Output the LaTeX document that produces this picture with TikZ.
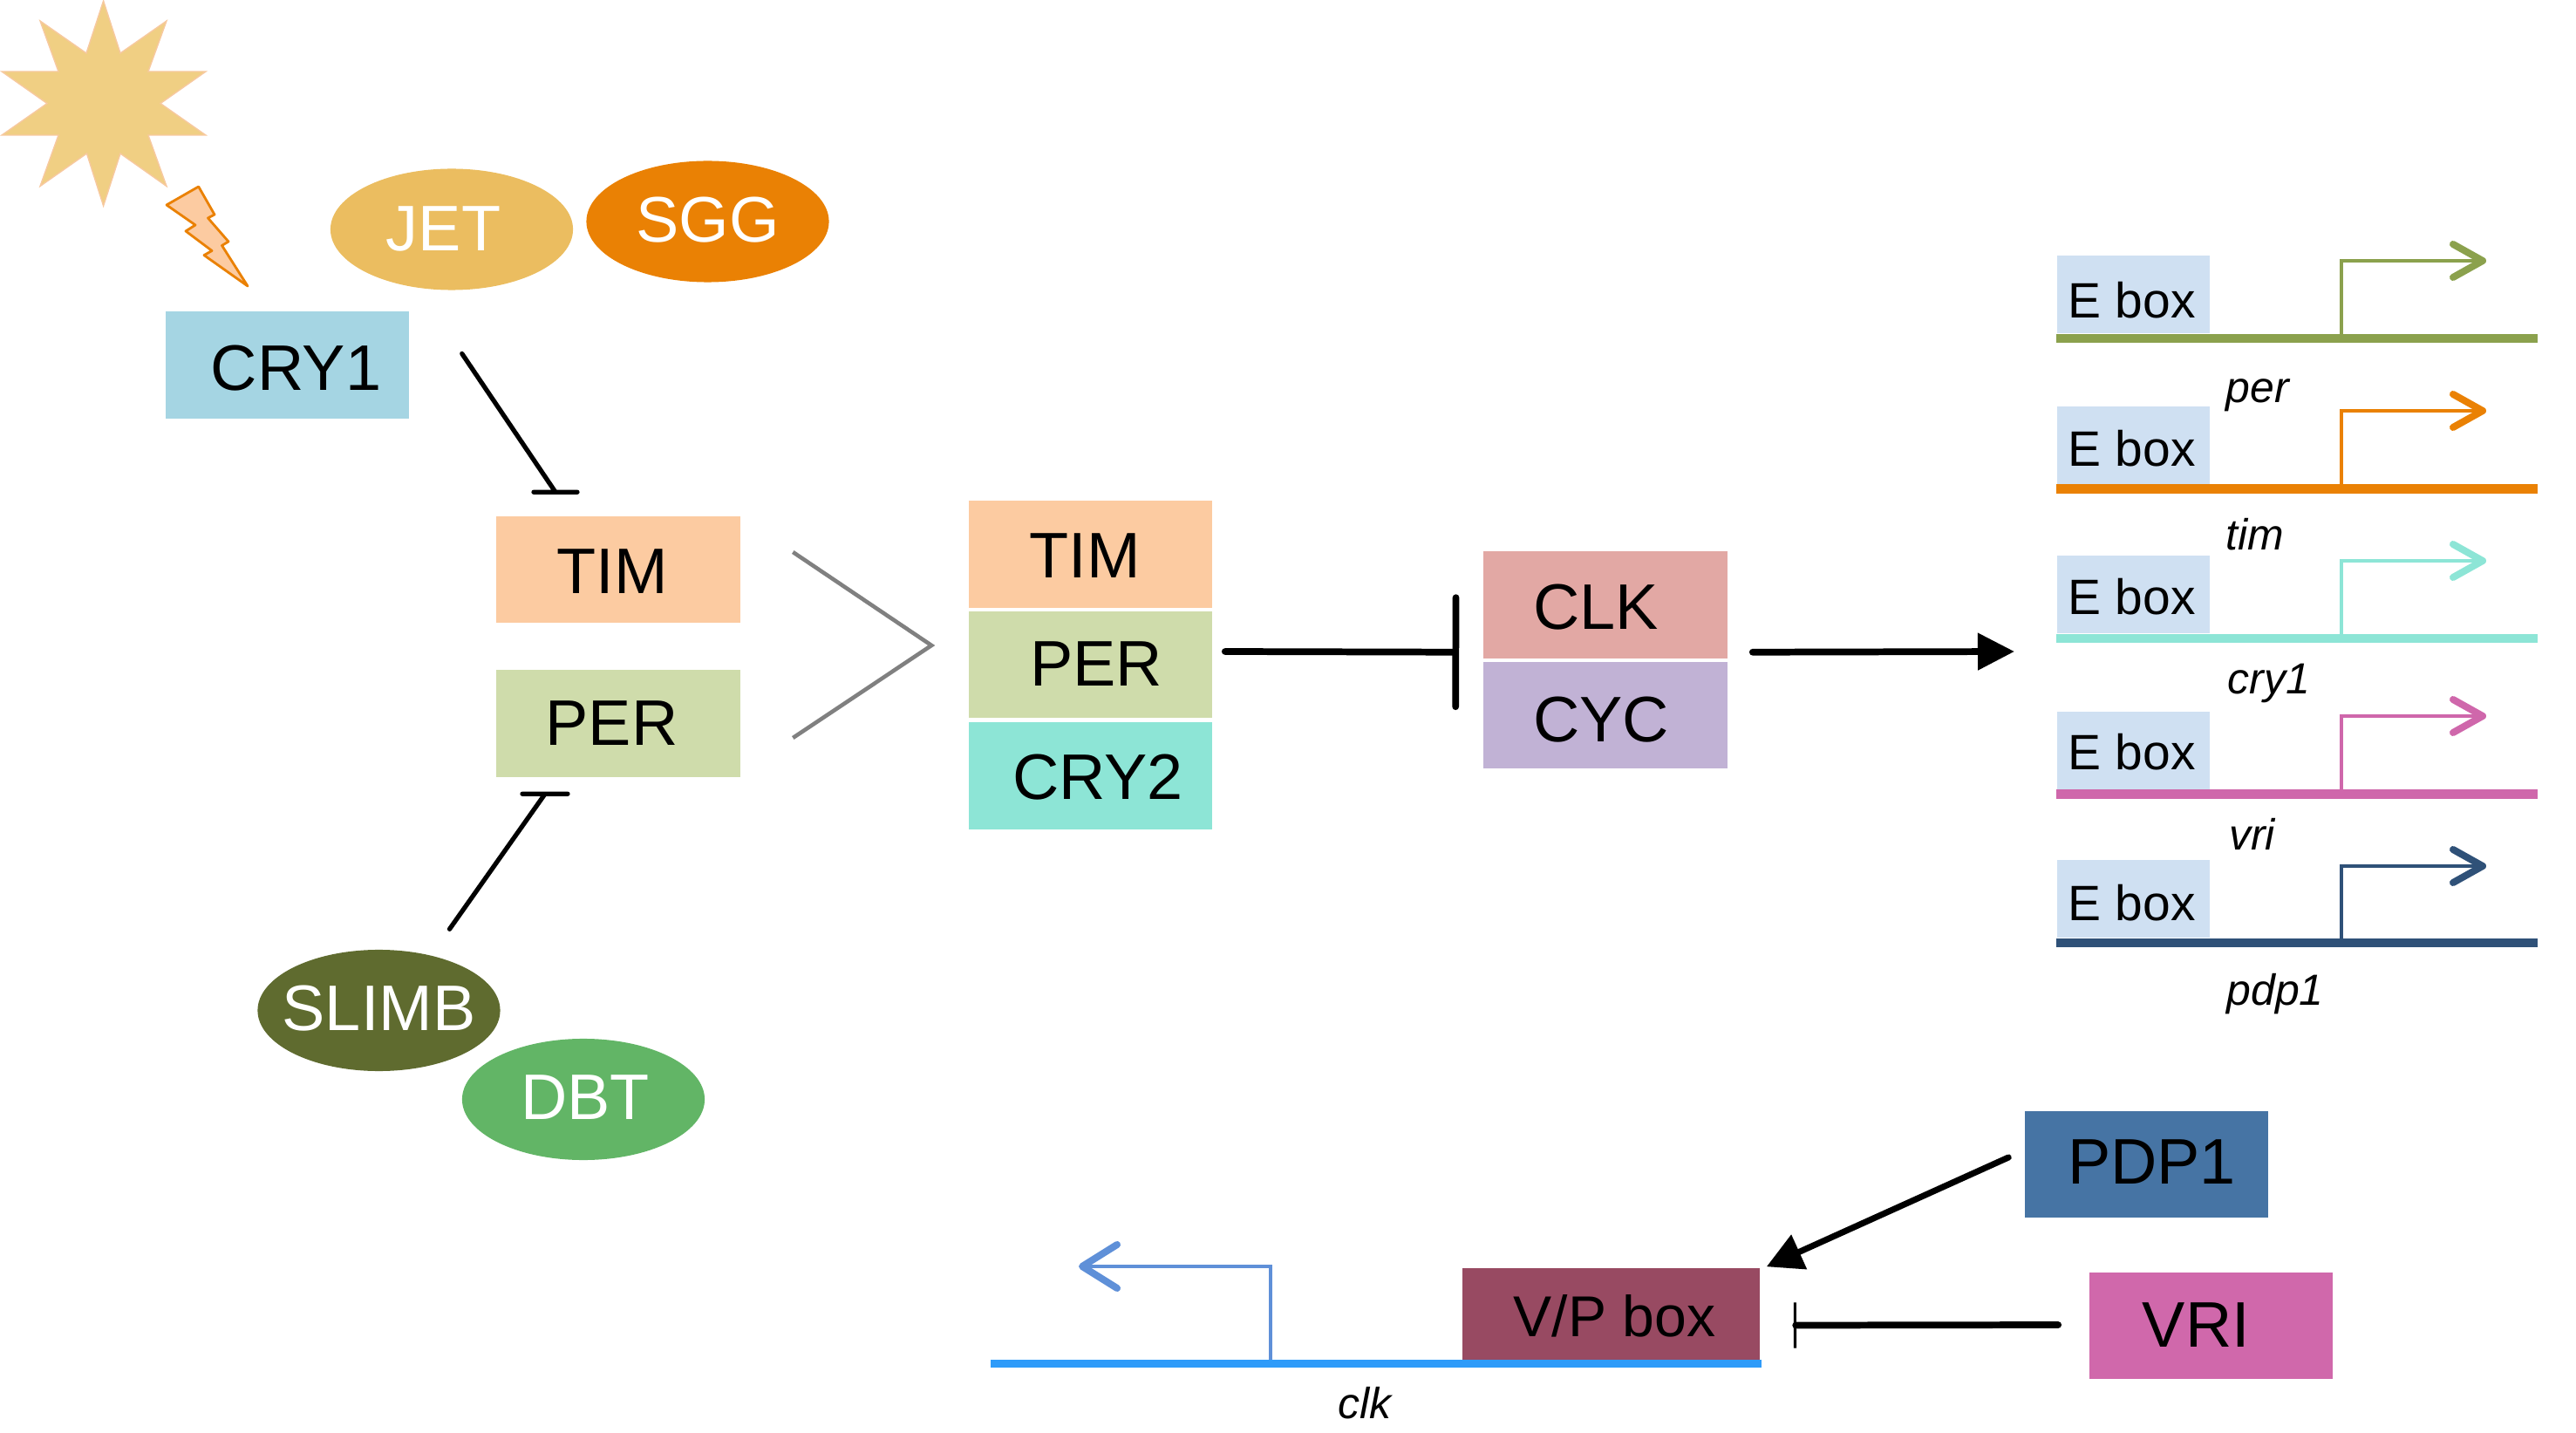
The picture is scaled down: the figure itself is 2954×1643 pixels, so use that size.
\documentclass[tikz,border=0pt]{standalone}
\usepackage{fontspec}
\setmainfont{Liberation Sans}
\usepackage{xcolor}
\usepackage{tikz}
\usetikzlibrary{arrows.meta,shapes.geometric}

\definecolor{sunfill}{HTML}{F0CF83}
\definecolor{sunedge}{HTML}{F7C9A0}
\definecolor{jetcol}{HTML}{EBBD60}
\definecolor{sggcol}{HTML}{EA8104}
\definecolor{slimbcol}{HTML}{5F6B2F}
\definecolor{dbtcol}{HTML}{62B566}
\definecolor{crycol}{HTML}{A5D5E3}
\definecolor{timcol}{HTML}{FCCBA1}
\definecolor{percol}{HTML}{CFDCAB}
\definecolor{crytwo}{HTML}{8DE5D6}
\definecolor{clkcol}{HTML}{E2A8A4}
\definecolor{cyccol}{HTML}{C1B2D5}
\definecolor{eboxcol}{HTML}{CFE0F2}
\definecolor{pdpcol}{HTML}{4674A4}
\definecolor{vricol}{HTML}{D068AB}
\definecolor{vpcol}{HTML}{984A62}
\definecolor{clkline}{HTML}{2E9BF9}
\definecolor{clkarrow}{HTML}{5F90D8}
\definecolor{pergene}{HTML}{8BA14D}
\definecolor{vrigene}{HTML}{CF67AB}
\definecolor{pdpgene}{HTML}{2F5178}

% text: shift to the right, baseline below the node centre, text
\newcommand{\nudge}[3]{\raisebox{-#2}[0pt][0pt]{\makebox[0pt]{\hspace*{\dimexpr #1*2\relax}#3}}}

\tikzset{
  prot/.style={rectangle, inner sep=0pt, minimum width=2.79cm, minimum height=1.22cm,
    font=\fontsize{21}{25}\selectfont, text=black},
  kinase/.style={ellipse, inner sep=0pt, minimum width=2.78cm, minimum height=1.39cm,
    font=\fontsize{21}{25}\selectfont, text=white},
  ebox/.style={rectangle, inner sep=0pt, minimum width=1.75cm, minimum height=0.89cm,
    fill=eboxcol, font=\fontsize{16.2}{20}\selectfont},
  gene/.style={inner sep=0pt, font=\fontsize{14.2}{17}\itshape\selectfont},
  block/.style={line width=1.5pt, line cap=round},
  stem/.style={line width=1pt, -{Straight Barb[length=0.34cm,width=0.38cm,line width=0.08cm,round]}}
}

\begin{document}
\begin{tikzpicture}[x=0.01cm,y=-0.01cm]
  \useasboundingbox (0,0) rectangle (2954,1643);

  % sun and flash
  \draw [fill=sunfill, draw=sunedge, line width=0.4pt] (118.6,1) -- (138,61) -- (191,24) -- (170,82) -- (236,82)
    -- (184,118.6) -- (236,155) -- (170,155) -- (191,213.5) -- (138,176) -- (118.6,236) -- (99.5,176)
    -- (46,213.5) -- (67,155) -- (2,155) -- (54,118.6) -- (2,82) -- (67,82) -- (46,24) -- (99,61) -- cycle;
  \draw [fill=timcol, draw=sggcol, line width=0.8pt, line join=round] (227.7,214) -- (246,246) -- (238.5,250) -- (262,277)
    -- (254.5,281.5) -- (284,328) -- (234,292.6) -- (243,287.5) -- (213,265) -- (224,258) -- (191,235) -- cycle;

  % left part
  \node [kinase, fill=jetcol] (jet) at (518,263) {\nudge{-0.095cm}{0.245cm}{JET}};
  \node [kinase, fill=sggcol] (sgg) at (811.5,254) {\nudge{0cm}{0.23cm}{SGG}};
  \node [prot, fill=crycol] (cry1) at (329.5,418.5) {\nudge{0.10cm}{0.285cm}{CRY1}};
  \node [prot, fill=timcol] (tim1) at (709,653) {\nudge{-0.07cm}{0.27cm}{TIM}};
  \node [prot, fill=percol] (per1) at (709,829.5) {\nudge{-0.075cm}{0.25cm}{PER}};
  \node [kinase, fill=slimbcol] (slimb) at (434.5,1158.5) {\nudge{0cm}{0.225cm}{SLIMB}};
  \node [kinase, fill=dbtcol] (dbt) at (669,1260.5) {\nudge{0.02cm}{0.225cm}{DBT}};

  % complex
  \node [prot, fill=timcol] (tim2) at (1250.5,635.5) {\nudge{-0.065cm}{0.27cm}{TIM}};
  \node [prot, fill=percol] (per2) at (1250.5,762) {\nudge{0.065cm}{0.245cm}{PER}};
  \node [prot, fill=crytwo] (cry2) at (1250.5,889.5) {\nudge{0.085cm}{0.27cm}{CRY2}};
  \node [prot, fill=clkcol] (clk) at (1841,693.5) {\nudge{-0.11cm}{0.275cm}{CLK}};
  \node [prot, fill=cyccol] (cyc) at (1841,820) {\nudge{-0.05cm}{0.30cm}{CYC}};

  \coordinate (timbar) at ([shift={(-72,-27)}]tim1.north);
  \coordinate (perbar) at ([shift={(-84,19)}]per1.south);
  \draw [block] ([shift={(60,-13)}]cry1.east) -- (timbar) ([shift={(-25,0)}]timbar) -- ([shift={(25,0)}]timbar);
  \draw [block] ([shift={(81,-23)}]slimb.north) -- (perbar) ([shift={(-26,0)}]perbar) -- ([shift={(26,0)}]perbar);
  \draw [gray, line width=1.3pt] ([shift={(60,-20)}]tim1.east) -- ([shift={(-42,-22)}]per2.west) -- ([shift={(60,16.5)}]per1.east);
  \draw [line width=2.2pt, line cap=round, -{Bar[width=1.25cm,line width=2.2pt,round]}] ([shift={(14,-15)}]per2.east) -- ([shift={(-27.5,-7.5)}]clk.south west);
  \coordinate (ein) at (2310,747);
  \draw [line width=2.2pt, line cap=round, -{Triangle[length=0.42cm,width=0.41cm]}] ([shift={(28.5,-7.5)}]clk.south east) -- (ein);

  % E box rows
  \foreach \i/\y/\a/\b/\c/\g/\lx/\ly in {1/388/299/0.27cm/pergene/per/2589/462, 2/560.5/471/0.24cm/sggcol/tim/2586/631, 3/732/643/0.23cm/crytwo/cry1/2602/795, 4/910.5/821/0.225cm/vrigene/vri/2582.5/974, 5/1081/993/0.25cm/pdpgene/pdp1/2609/1152}{
    \draw [\c, line width=0.105cm] (2358,\y) -- (2910,\y);
    \node [ebox, anchor=south west] (ebox\i) at (2358,\y-5) {\nudge{-0.015cm}{\b}{E box}};
    \draw [stem, \c] (2685,\y) |- (2851,\a);
    \node [gene, anchor=base] (gene\i) at (\lx,\ly) {\g};
  }

  % clk promoter
  \node [prot, fill=pdpcol] (pdp1) at (2461.5,1335) {\nudge{0.06cm}{0.225cm}{PDP1}};
  \node [prot, fill=vricol] (vri) at (2535.5,1520) {\nudge{-0.17cm}{0.245cm}{VRI}};
  \draw [clkline, line width=0.09cm] (1136,1563.5) -- (2020,1563.5);
  \node [rectangle, inner sep=0pt, minimum width=3.41cm, minimum height=1.05cm, fill=vpcol,
    font=\fontsize{18.8}{22}\selectfont] (vp) at (1847.5,1506.5) {\nudge{0.04cm}{0.26cm}{V/P box}};
  \draw [clkarrow, line width=1pt, -{Straight Barb[length=0.4cm,width=0.5cm,line width=0.08cm,round]}] (1457,1559) |- (1237,1452);
  \node [gene, anchor=base] (gclk) at (1565,1626) {clk};
  \draw [line width=2pt, line cap=round, -{Triangle[length=0.41cm,width=0.42cm]}] ([shift={(-18,-8)}]pdp1.west) -- ([shift={(7,-1)}]vp.north east);
  \draw [line width=2.2pt, line cap=round, -{Bar[width=0.52cm,line width=0.9pt]}] ([shift={(-35,-1)}]vri.west) -- ([shift={(38,13)}]vp.east);
\end{tikzpicture}
\end{document}
